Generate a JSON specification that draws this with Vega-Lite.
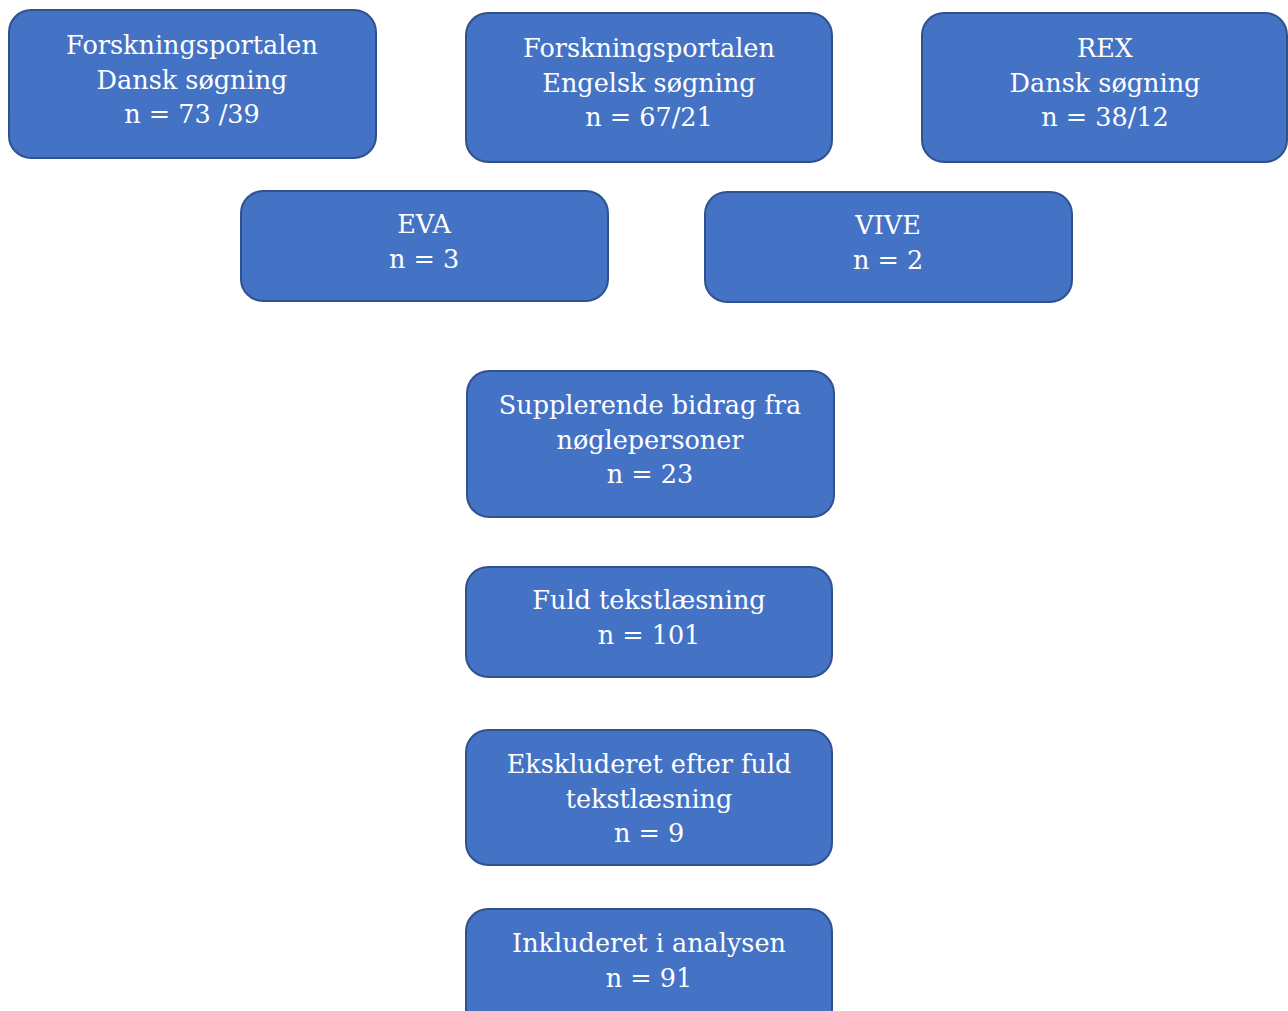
{
  "$schema": "https://vega.github.io/schema/vega-lite/v6.json",
  "width": 1288,
  "height": 1011,
  "autosize": {"type": "fit", "contains": "padding"},
  "padding": 0,
  "background": "white",
  "config": {"view": {"stroke": null}},
  "data": {
    "values": [
      {"label": "Forskningsportalen\nDansk søgning\nn = 73 /39", "x1": 9, "x2": 376, "y1": 10, "y2": 158, "cx": 192, "cy": 46},
      {"label": "Forskningsportalen\nEngelsk søgning\nn = 67/21", "x1": 466, "x2": 832, "y1": 13, "y2": 162, "cx": 649, "cy": 49},
      {"label": "REX\nDansk søgning\nn = 38/12", "x1": 922, "x2": 1287, "y1": 13, "y2": 162, "cx": 1105, "cy": 49},
      {"label": "EVA\nn = 3", "x1": 241, "x2": 608, "y1": 191, "y2": 301, "cx": 424, "cy": 225},
      {"label": "VIVE\nn = 2", "x1": 705, "x2": 1072, "y1": 192, "y2": 302, "cx": 888, "cy": 226},
      {"label": "Supplerende bidrag fra\nnøglepersoner\nn = 23", "x1": 467, "x2": 834, "y1": 371, "y2": 517, "cx": 650, "cy": 406},
      {"label": "Fuld tekstlæsning\nn = 101", "x1": 466, "x2": 832, "y1": 567, "y2": 677, "cx": 649, "cy": 601},
      {"label": "Ekskluderet efter fuld\ntekstlæsning\nn = 9", "x1": 466, "x2": 832, "y1": 730, "y2": 865, "cx": 649, "cy": 765},
      {"label": "Inkluderet i analysen\nn = 91", "x1": 466, "x2": 832, "y1": 909, "y2": 1040, "cx": 649, "cy": 944}
    ]
  },
  "layer": [
    {
      "mark": {"type": "rect", "fill": "#4472C4", "stroke": "#2F528F", "strokeWidth": 2, "cornerRadius": 22, "clip": true},
      "encoding": {
        "x": {"field": "x1", "type": "quantitative", "scale": {"domain": [0, 1288], "nice": false, "zero": false}, "axis": null},
        "x2": {"field": "x2"},
        "y": {"field": "y1", "type": "quantitative", "scale": {"domain": [0, 1011], "nice": false, "zero": false, "reverse": true}, "axis": null},
        "y2": {"field": "y2"}
      }
    },
    {
      "mark": {"type": "text", "font": "DejaVu Serif", "fontSize": 25.5, "color": "white", "align": "center", "baseline": "middle", "lineBreak": "\n", "lineHeight": 34.5},
      "encoding": {
        "x": {"field": "cx", "type": "quantitative"},
        "y": {"field": "cy", "type": "quantitative"},
        "text": {"field": "label"}
      }
    }
  ]
}
